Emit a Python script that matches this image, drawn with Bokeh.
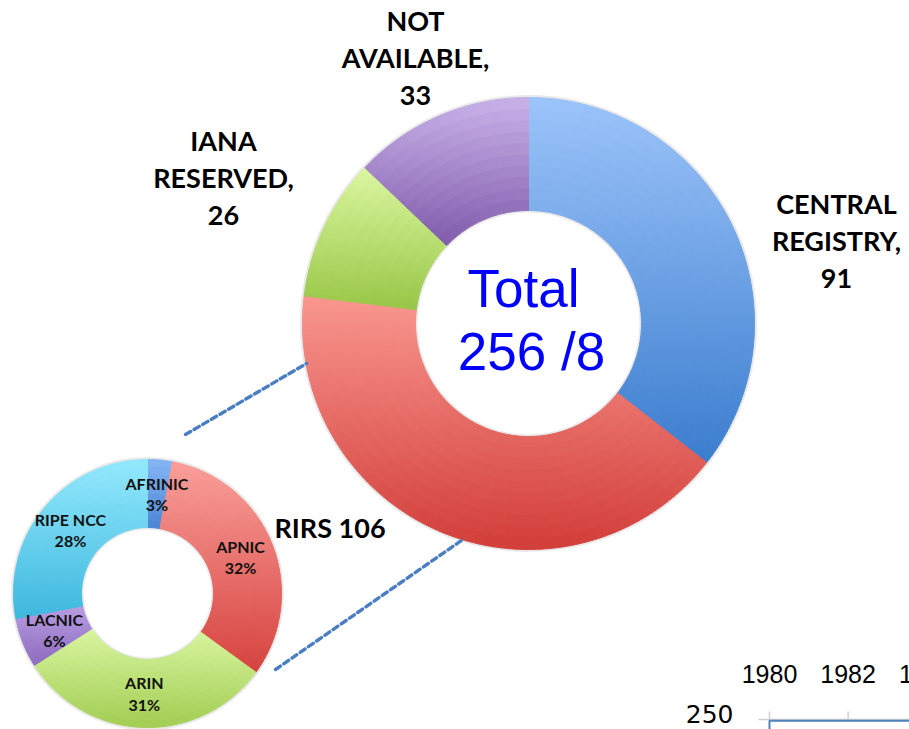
import math
import numpy as np
from bokeh.plotting import figure
from bokeh.models import Range1d, ColumnDataSource
from bokeh.core.properties import value
from bokeh.embed import file_html
from bokeh.resources import INLINE

# ---------------- data ----------------
big_names = ["CENTRAL\nREGISTRY", "RIRS", "IANA\nRESERVED", "NOT\nAVAILABLE"]
big_values = [91, 106, 26, 33]
total_lines = ["Total", "256 /8"]

rir_names = ["AFRINIC", "APNIC", "ARIN", "LACNIC", "RIPE NCC"]
rir_pcts = [3, 32, 31, 6, 28]

frag_years = [1980, 1982, 1984]
frag_year_labels = ["1980", "1982", "1984"]
frag_value = 250
frag_value_label = "250"

# ---------------- styles / layout ----------------
big_top = ["#9CC4FA", "#F9978F", "#DBF7A0", "#C9B2E9"]
big_bot = ["#3B7DCE", "#D23D39", "#98C646", "#7F5AAA"]
small_top = ["#86B5F4", "#FA9E99", "#D9F6A0", "#B89DE2", "#93E9FD"]
small_bot = ["#4A85D6", "#D6433F", "#A2CD52", "#8D6ABE", "#3DB8DE"]

BIG = dict(cx=528, cy=323, r_in=113, r_out=226)
SMALL = dict(cx=147, cy=593, r_in=66, r_out=134)

# label anchor positions for the big donut (picture pixel coords)
big_label_pos = [(836, 240, "center"), (274, 527, "left"), (223, 177, "center"), (415, 57, "center")]
connectors = [((185, 434), (306, 363)), ((275, 669), (461, 540))]

W, H = 909, 729
p = figure(width=W, height=H, output_backend="svg", toolbar_location=None,
           x_range=Range1d(0, W), y_range=Range1d(-H, 0),
           min_border=0, tools="")
p.axis.visible = False
p.grid.visible = False
p.outline_line_color = None
p.background_fill_color = "white"
p.border_fill_color = "white"


def hex2rgb(h):
    h = h.lstrip("#")
    return np.array([int(h[i:i + 2], 16) for i in (0, 2, 4)], dtype=float)


def rgb2hex(c):
    c = np.clip(np.round(c), 0, 255).astype(int)
    return "#%02x%02x%02x" % tuple(c)


def donut_cells(geom, values, tops, bots, n_r=10, step=math.radians(1.2)):
    cx, cy = geom["cx"], -geom["cy"]
    r_in, r_out = geom["r_in"], geom["r_out"]
    total = float(sum(values))
    out = dict(x=[], y=[], ri=[], ro=[], sa=[], ea=[], c=[])
    cum = 0.0
    for v, ct, cb in zip(values, tops, bots):
        a0 = cum / total * 2 * math.pi
        a1 = (cum + v) / total * 2 * math.pi
        cum += v
        samp = np.linspace(a0, a1, 300)
        ys = np.concatenate([cy + r_in * np.cos(samp), cy + r_out * np.cos(samp)])
        ytop, ybot = ys.max(), ys.min()
        na = max(2, int(math.ceil((a1 - a0) / step)))
        ae = np.linspace(a0, a1, na + 1)
        re = np.linspace(r_in, r_out, n_r + 1)
        t0, t1 = hex2rgb(ct), hex2rgb(cb)
        for i in range(na):
            am = 0.5 * (ae[i] + ae[i + 1])
            for j in range(n_r):
                rm = 0.5 * (re[j] + re[j + 1])
                ym = cy + rm * math.cos(am)
                t = (ytop - ym) / (ytop - ybot) if ytop > ybot else 0.5
                col = rgb2hex(t0 + (t1 - t0) * t)
                out["x"].append(cx); out["y"].append(cy)
                out["ri"].append(re[j]); out["ro"].append(re[j + 1])
                out["sa"].append(math.pi / 2 - ae[i + 1])
                out["ea"].append(math.pi / 2 - ae[i])
                out["c"].append(col)
    return out


def mid_positions(geom, values):
    cx, cy = geom["cx"], -geom["cy"]
    rm = 0.5 * (geom["r_in"] + geom["r_out"])
    total = float(sum(values))
    xs, ys = [], []
    cum = 0.0
    for v in values:
        am = (cum + v / 2.0) / total * 2 * math.pi
        cum += v
        xs.append(cx + rm * math.sin(am))
        ys.append(cy + rm * math.cos(am))
    return xs, ys


# soft shadows (rings only, hole stays white)
for g in (BIG, SMALL):
    p.annulus(x=[g["cx"]], y=[-g["cy"]], inner_radius=g["r_in"] - 2, outer_radius=g["r_out"] + 2.5,
              fill_color="#9a9a9a", fill_alpha=0.22, line_color=None)

# donuts
for g, vals, tops, bots in ((BIG, big_values, big_top, big_bot),
                            (SMALL, rir_pcts, small_top, small_bot)):
    src = ColumnDataSource(donut_cells(g, vals, tops, bots))
    p.annular_wedge(x="x", y="y", inner_radius="ri", outer_radius="ro",
                    start_angle="sa", end_angle="ea", fill_color="c",
                    line_color="c", line_width=1.0, source=src)

# white notch overlaying the red ring edge
p.quad(left=[647], right=[720], top=[-517], bottom=[-570], fill_color="white", line_color=None)

# connector dashed lines
p.segment(x0=[c[0][0] for c in connectors], y0=[-c[0][1] for c in connectors],
          x1=[c[1][0] for c in connectors], y1=[-c[1][1] for c in connectors],
          line_color="#4A7EC3", line_width=3.4, line_dash="6 4", line_cap="round")

# big donut labels
for name, v, (lx, ly, al) in zip(big_names, big_values, big_label_pos):
    txt = f"{name} {v}" if name == "RIRS" else f"{name},\n{v}"
    p.text(x=[lx], y=[-ly], text=[txt], text_align=al, text_baseline="middle",
           text_font=value("Lato"), text_font_style="bold", text_font_size="27px",
           text_color="#000000", text_line_height=1.12)

# centre text
p.text(x=[523], y=[-288], text=[total_lines[0]], text_align="center", text_baseline="middle",
       text_font=value("Liberation Sans"), text_font_size="53px", text_color="#0000FF")
p.text(x=[531], y=[-351], text=[total_lines[1]], text_align="center", text_baseline="middle",
       text_font=value("Liberation Sans"), text_font_size="53px", text_color="#0000FF")

# small donut labels
sx, sy = mid_positions(SMALL, rir_pcts)
p.text(x=sx, y=sy, text=[f"{n}\n{v}%" for n, v in zip(rir_names, rir_pcts)],
       text_align="center", text_baseline="middle",
       text_font=value("Lato"), text_font_style="bold", text_font_size="16px",
       text_color="#111111", text_line_height=1.12)

# clipped fragment of another chart (bottom right)
def fx(year):
    return 769 + (year - 1980) * 39.3

fy = -719
p.segment(x0=[758], y0=[fy], x1=[W], y1=[fy], line_color="#D0D0D0", line_width=1.5)
p.segment(x0=[fx(yr) for yr in frag_years], y0=[fy + 8] * len(frag_years),
          x1=[fx(yr) for yr in frag_years], y1=[fy] * len(frag_years),
          line_color="#D0D0D0", line_width=1.5)
p.line(x=[fx(frag_years[0]), fx(frag_years[0]), W], y=[-H - 5, fy - 1.3, fy - 1.3],
       line_color="#4F81BD", line_width=2)
p.text(x=[fx(yr) for yr in frag_years], y=[-673] * len(frag_years), text=frag_year_labels,
       text_align="center", text_baseline="middle",
       text_font=value("Liberation Sans"), text_font_size="25px", text_color="#000000")
p.text(x=[733], y=[-713], text=[frag_value_label], text_align="right", text_baseline="middle",
       text_font=value("DejaVu Sans"), text_font_size="25px", text_color="#000000")

open("out.html", "w").write(file_html(p, INLINE))
